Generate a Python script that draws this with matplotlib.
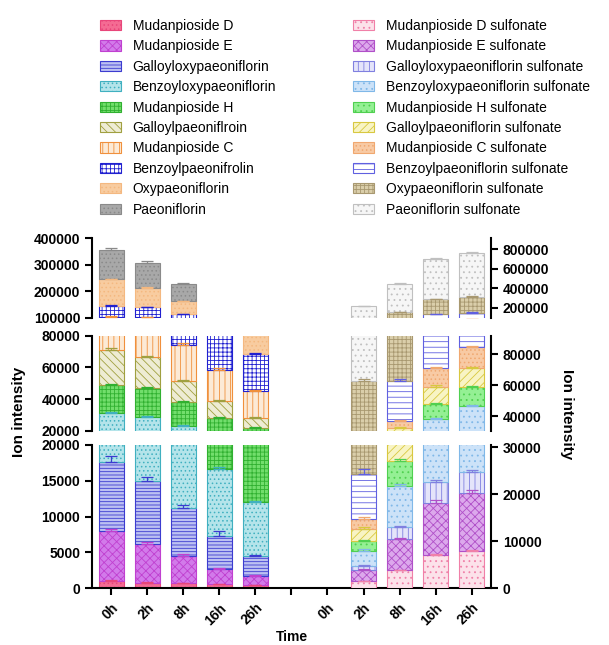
import numpy as np
import matplotlib.pyplot as plt
from matplotlib.patches import Patch

plt.rcParams['font.family'] = ['Liberation Sans', 'DejaVu Sans']
plt.rcParams['hatch.linewidth'] = 0.6

times = ['0h', '2h', '8h', '16h', '26h']

# parent compounds, left axis (stack order bottom -> top)
mud_d = [1000, 780, 700, 560, 420]
mud_e = [7000, 5420, 3850, 2140, 1340]
galloyloxy = [9600, 8800, 6620, 4600, 2740]
benzoyloxy = [13800, 13800, 12030, 9300, 7600]
mud_h = [17600, 18200, 15100, 11600, 9800]
galloylpae = [22000, 19500, 13300, 10800, 6300]
mud_c = [33000, 35500, 22600, 19500, 17100]
benzoylpae = [41000, 38000, 38800, 27500, 23000]
oxypae = [100000, 73000, 49000, 3000, 19700]
paeoniflorin = [112000, 95000, 64000, 2000, 3000]

mud_d_err = [100, 80, 80, 70, 50]
mud_e_err = [250, 250, 200, 200, 150]
galloyloxy_err = [800, 600, 500, 700, 150]
benzoyloxy_err = [400, 400, 300, 300, 150]
mud_h_err = [700, 600, 500, 500, 400]
galloylpae_err = [1000, 900, 800, 800, 600]
mud_c_err = [1500, 1200, 1000, 1200, 800]
benzoylpae_err = [2000, 2000, 1500, 1500, 1000]
oxypae_err = [3000, 3000, 2000, 300, 500]
paeoniflorin_err = [8000, 5000, 4000, 300, 300]

# sulfonates, right axis
mud_d_s = [0, 1500, 3800, 7000, 8000]
mud_e_s = [0, 2400, 6600, 11200, 12200]
galloyloxy_s = [0, 900, 2600, 4400, 4600]
benzoyloxy_s = [0, 3200, 8700, 15400, 21700]
mud_h_s = [0, 2000, 5400, 9800, 12400]
galloylpae_s = [0, 2700, 5100, 11200, 12100]
mud_c_s = [0, 2100, 4300, 12100, 13600]
benzoylpae_s = [0, 9600, 26200, 63900, 64400]
oxypae_s = [0, 38200, 93300, 151000, 164000]
paeoniflorin_s = [0, 154400, 291000, 412000, 446000]

mud_d_s_err = [0, 100, 150, 200, 200]
mud_e_s_err = [0, 300, 400, 600, 700]
galloyloxy_s_err = [0, 250, 300, 400, 400]
benzoyloxy_s_err = [0, 300, 500, 600, 600]
mud_h_s_err = [0, 300, 500, 700, 800]
galloylpae_s_err = [0, 300, 500, 800, 800]
mud_c_s_err = [0, 400, 600, 900, 900]
benzoylpae_s_err = [0, 1000, 1200, 2000, 2000]
oxypae_s_err = [0, 1500, 3000, 5000, 5000]
paeoniflorin_s_err = [0, 3000, 12000, 15000, 12000]

parent_names = ['Mudanpioside D', 'Mudanpioside E', 'Galloyloxypaeoniflorin',
                'Benzoyloxypaeoniflorin', 'Mudanpioside H', 'Galloylpaeoniflroin',
                'Mudanpioside C', 'Benzoylpaeonifrolin', 'Oxypaeoniflorin', 'Paeoniflorin']
sulf_names = ['Mudanpioside D sulfonate', 'Mudanpioside E sulfonate',
              'Galloyloxypaeoniflorin sulfonate', 'Benzoyloxypaeoniflorin sulfonate',
              'Mudanpioside H sulfonate', 'Galloylpaeoniflorin sulfonate',
              'Mudanpioside C sulfonate', 'Benzoylpaeoniflorin sulfonate',
              'Oxypaeoniflorin sulfonate', 'Paeoniflorin sulfonate']

parent_vals = [mud_d, mud_e, galloyloxy, benzoyloxy, mud_h, galloylpae, mud_c,
               benzoylpae, oxypae, paeoniflorin]
parent_errs = [mud_d_err, mud_e_err, galloyloxy_err, benzoyloxy_err, mud_h_err,
               galloylpae_err, mud_c_err, benzoylpae_err, oxypae_err, paeoniflorin_err]
sulf_vals = [mud_d_s, mud_e_s, galloyloxy_s, benzoyloxy_s, mud_h_s, galloylpae_s,
             mud_c_s, benzoylpae_s, oxypae_s, paeoniflorin_s]
sulf_errs = [mud_d_s_err, mud_e_s_err, galloyloxy_s_err, benzoyloxy_s_err, mud_h_s_err,
             galloylpae_s_err, mud_c_s_err, benzoylpae_s_err, oxypae_s_err,
             paeoniflorin_s_err]

# (face, edge, hatch)
parent_styles = [
    ('#F46B93', '#E8457A', '....'),
    ('#D27AEA', '#C040D0', 'xxxx'),
    ('#BCC0F2', '#3C3CD0', '-----'),
    ('#B4E4EA', '#40B0C0', '....'),
    ('#72DE6C', '#30B030', '++++'),
    ('#EEECD4', '#A0A040', '\\\\\\\\'),
    ('#FCEAD6', '#F0903C', '|||'),
    ('#FFFFFF', '#2020D0', '++++'),
    ('#F8CCA0', '#F4B880', '....'),
    ('#A8A8A8', '#8A8A8A', '....'),
]
sulf_styles = [
    ('#FCE2EA', '#F080A8', '...'),
    ('#DCA8EC', '#B050C8', 'xxxx'),
    ('#E4E4FA', '#8080E0', '|||'),
    ('#CCE2F8', '#80B8E8', '...'),
    ('#94F094', '#50D050', '...'),
    ('#F8F4C4', '#D8C840', '////'),
    ('#F8CAA4', '#F0A870', '....'),
    ('#FFFFFF', '#6060E0', '---'),
    ('#DACEAA', '#A89870', '++++'),
    ('#F6F6F6', '#C0C0C0', '...'),
]

x_left = np.arange(5)
x_right = np.arange(5) + 6
bar_w = 0.69


def draw_stack(ax, xpos, vals_list, errs_list, styles):
    bottom = np.zeros(len(xpos))
    for vals, errs, (fc, ec, hatch) in zip(vals_list, errs_list, styles):
        vals = np.asarray(vals, float)
        errs = np.asarray(errs, float)
        m = vals > 0
        ax.bar(xpos[m], vals[m], bar_w, bottom=bottom[m], color=fc, edgecolor=ec,
               hatch=hatch, linewidth=0.8, zorder=2)
        top = bottom + vals
        ax.errorbar(xpos[m], top[m], yerr=[np.zeros(m.sum()), errs[m]], fmt='none',
                    ecolor=ec, elinewidth=0.9, capsize=4, capthick=0.9, zorder=3)
        bottom = top


fig = plt.figure(figsize=(6.09, 6.45), dpi=100)

# broken y axis: bottom, middle, top segments
panels = [
    (0.0879, 0.2222, (0, 20000), np.arange(0, 20001, 5000), (0, 30500), [0, 10000, 20000, 30000]),
    (0.3318, 0.1478, (20000, 80000), np.arange(20000, 80001, 20000), (30300, 92000), [40000, 60000, 80000]),
    (0.5074, 0.1231, (100000, 400000), np.arange(100000, 400001, 100000), (97000, 913000), [200000, 400000, 600000, 800000]),
]

for i, (b, h, ylim_l, ticks_l, ylim_r, ticks_r) in enumerate(panels):
    ax = fig.add_axes([0.151, b, 0.655, h])
    axr = ax.twinx()
    draw_stack(ax, x_left, parent_vals, parent_errs, parent_styles)
    draw_stack(axr, x_right, sulf_vals, sulf_errs, sulf_styles)
    ax.set_xlim(-0.53, 10.53)
    ax.set_ylim(*ylim_l)
    axr.set_ylim(*ylim_r)
    ax.set_yticks(ticks_l)
    axr.set_yticks(ticks_r)
    for a in (ax, axr):
        for s in a.spines.values():
            s.set_visible(False)
        a.set_facecolor('none')
    ax.spines['left'].set_visible(True)
    ax.spines['left'].set_linewidth(1.5)
    axr.spines['right'].set_visible(True)
    axr.spines['right'].set_linewidth(1.5)
    ax.tick_params(axis='y', direction='out', length=5, width=1.5, labelsize=10)
    axr.tick_params(axis='y', direction='out', length=5, width=1.5, labelsize=10)
    for lbl in ax.get_yticklabels() + axr.get_yticklabels():
        lbl.set_fontweight('bold')
    ax.ticklabel_format(axis='y', style='plain')
    axr.ticklabel_format(axis='y', style='plain')
    if i == 0:
        ax.spines['bottom'].set_visible(True)
        ax.spines['bottom'].set_linewidth(1.5)
        ax.set_xticks(np.arange(11))
        ax.set_xticklabels(times + [''] + times, rotation=45, ha='right',
                           rotation_mode='anchor', fontweight='bold', fontsize=10)
        ax.tick_params(axis='x', direction='out', length=5, width=1.5, pad=4)
    else:
        ax.tick_params(axis='x', bottom=False, labelbottom=False)
    axr.tick_params(axis='x', bottom=False, labelbottom=False, top=False, labeltop=False)

fig.text(0.031, 0.361, 'Ion intensity', rotation=90, fontsize=11, fontweight='bold',
         ha='center', va='center')
fig.text(0.931, 0.358, 'Ion intensity', rotation=270, fontsize=11, fontweight='bold',
         ha='center', va='center')
fig.text(0.479, 0.012, 'Time', fontsize=10, fontweight='bold', ha='center', va='center')

leg_kw = dict(loc='upper left', frameon=False, borderpad=0, borderaxespad=0,
              handlelength=1.5, handleheight=0.75, handletextpad=0.85,
              labelspacing=0.46, fontsize=10)
h_left = [Patch(facecolor=fc, edgecolor=ec, hatch=hh, linewidth=0.8)
          for fc, ec, hh in parent_styles]
h_right = [Patch(facecolor=fc, edgecolor=ec, hatch=hh, linewidth=0.8)
           for fc, ec, hh in sulf_styles]
fig.legend(h_left, parent_names, bbox_to_anchor=(100 / 609, 1 - 19 / 645), **leg_kw)
fig.legend(h_right, sulf_names, bbox_to_anchor=(353 / 609, 1 - 19 / 645), **leg_kw)

fig.savefig('out.png', dpi=100)
